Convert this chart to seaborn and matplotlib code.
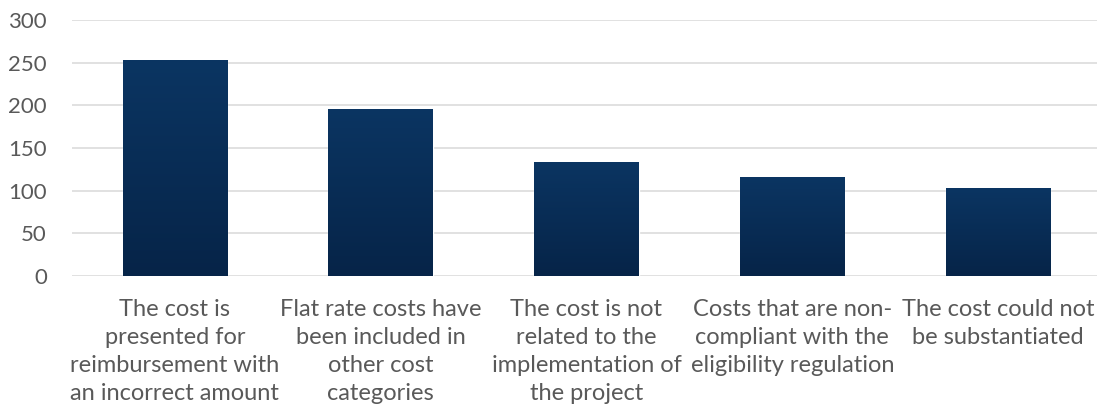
import numpy as np
import pandas as pd
import matplotlib
matplotlib.use('Agg')
import matplotlib.pyplot as plt
import seaborn as sns
from matplotlib.colors import LinearSegmentedColormap

# categories (wrapped as in the source chart)
categories = [
    'The cost is\npresented for\nreimbursement with\nan incorrect amount',
    'Flat rate costs have\nbeen included in\nother cost\ncategories',
    'The cost is not\nrelated to the\nimplementation of\nthe project',
    'Costs that are non-\ncompliant with the\neligibility regulation',
    'The cost could not\nbe substantiated',
]
counts = [253, 196, 134, 116, 103]
y_ticks = [0, 50, 100, 150, 200, 250, 300]

df = pd.DataFrame({'reason': categories, 'count': counts})

sns.set_theme(style='white')
plt.rcParams['font.family'] = ['Lato', 'DejaVu Sans']

fig = plt.figure(figsize=(10.97, 4.11), dpi=100)
ax = fig.add_axes([0.0656, 0.329, 0.938, 0.622])

sns.barplot(data=df, x='reason', y='count', color='#082c55', width=0.507,
            saturation=1, ax=ax, zorder=3)

# vertical gradient inside each bar, like the office chart fill
grad = LinearSegmentedColormap.from_list('bar', ['#062448', '#0b3562'])
for p in ax.patches:
    x0, y0 = p.get_x(), p.get_y()
    w, h = p.get_width(), p.get_height()
    img = ax.imshow(np.linspace(0, 1, 256).reshape(-1, 1), cmap=grad,
                    extent=[x0, x0 + w, y0, y0 + h], origin='lower',
                    aspect='auto', zorder=4)
    img.set_clip_path(p)
ax.set_xlim(-0.5, 4.5)
ax.set_ylim(0, 300)

ax.set_yticks(y_ticks)
ax.yaxis.grid(True, color='#d9d9d9', linewidth=1.1, zorder=0)
ax.set_axisbelow(True)
for s in ax.spines.values():
    s.set_visible(False)
ax.set_xlabel('')
ax.set_ylabel('')
ax.tick_params(axis='y', length=0, pad=18, labelsize=16, labelcolor='#595959')
ax.tick_params(axis='x', length=0, pad=17, labelsize=17, labelcolor='#595959')
for lab in ax.get_xticklabels():
    lab.set_linespacing(1.4)
    lab.set_ha('center')

fig.savefig('out.png', dpi=100)
